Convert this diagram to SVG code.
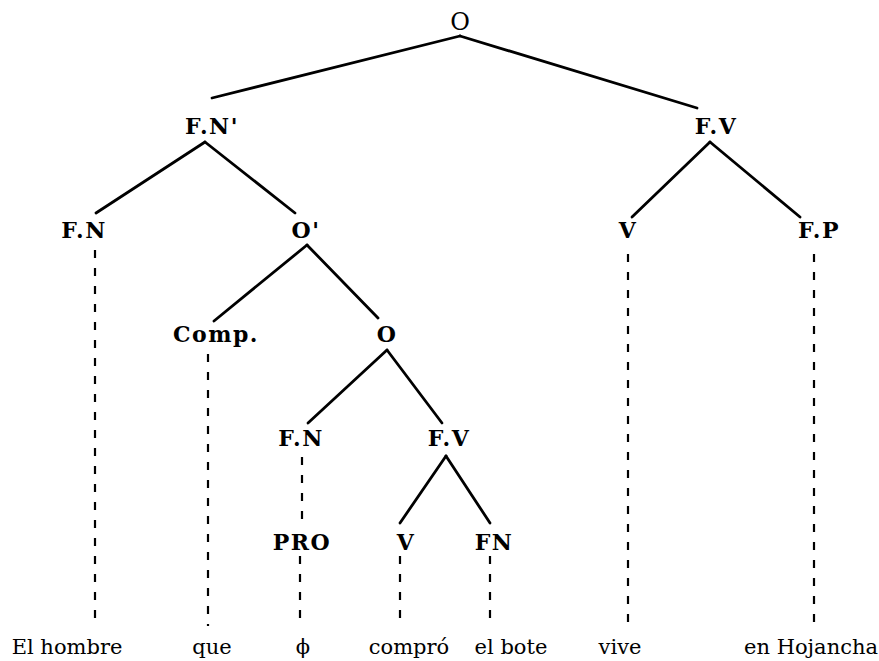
<svg xmlns="http://www.w3.org/2000/svg" width="879" height="661" viewBox="0 0 879 661">
<style>
.lbl{font-family:"DejaVu Serif","Liberation Serif",serif;font-weight:bold;font-size:22px;letter-spacing:1.5px;text-anchor:middle;fill:#000}
.top{font-family:"DejaVu Serif","Liberation Serif",serif;font-size:24px;text-anchor:middle;fill:#000}
.word{font-family:"DejaVu Serif","Liberation Serif",serif;font-size:21px;text-anchor:middle;fill:#000}
.edge{stroke:#000;stroke-width:2.8;fill:none;stroke-linecap:round}
.dash{stroke:#000;stroke-width:2.2;fill:none;stroke-dasharray:8 10}
</style>
<rect width="879" height="661" fill="#fff"/>
<g id="connectors">
<line class="edge" x1="460" y1="36" x2="212" y2="98"/>
<line class="edge" x1="460" y1="36" x2="697" y2="108"/>
<line class="edge" x1="205" y1="142" x2="96" y2="213"/>
<line class="edge" x1="205" y1="142" x2="295" y2="213"/>
<line class="edge" x1="710" y1="142" x2="632" y2="217"/>
<line class="edge" x1="710" y1="142" x2="800" y2="217"/>
<line class="edge" x1="307" y1="245" x2="214" y2="321"/>
<line class="edge" x1="307" y1="245" x2="378" y2="318"/>
<line class="edge" x1="387" y1="350" x2="308" y2="423"/>
<line class="edge" x1="387" y1="350" x2="442" y2="423"/>
<line class="edge" x1="446" y1="456" x2="400" y2="523"/>
<line class="edge" x1="446" y1="456" x2="490" y2="523"/>
<line class="dash" x1="95" y1="250" x2="95" y2="626"/>
<line class="dash" x1="208" y1="354" x2="208" y2="626"/>
<line class="dash" x1="302" y1="457" x2="302" y2="524"/>
<line class="dash" x1="300" y1="556" x2="300" y2="626"/>
<line class="dash" x1="400" y1="556" x2="400" y2="626"/>
<line class="dash" x1="490" y1="556" x2="490" y2="626"/>
<line class="dash" x1="628" y1="254" x2="628" y2="626"/>
<line class="dash" x1="814" y1="254" x2="814" y2="626"/>
</g>
<g id="n-O"><text class="top" x="460" y="30">O</text></g>
<g id="n-FNp"><text class="lbl" x="212" y="134">F.N'</text></g>
<g id="n-FV1"><text class="lbl" x="716" y="134">F.V</text></g>
<g id="n-FN1"><text class="lbl" x="84" y="238">F.N</text></g>
<g id="n-Op"><text class="lbl" x="306" y="238">O'</text></g>
<g id="n-V1"><text class="lbl" x="628" y="238">V</text></g>
<g id="n-FP"><text class="lbl" x="819" y="238">F.P</text></g>
<g id="n-Comp"><text class="lbl" x="216" y="342">Comp.</text></g>
<g id="n-O2"><text class="lbl" x="387" y="342">O</text></g>
<g id="n-FN2"><text class="lbl" x="301" y="446">F.N</text></g>
<g id="n-FV2"><text class="lbl" x="449" y="446">F.V</text></g>
<g id="n-PRO"><text class="lbl" x="302" y="550">PRO</text></g>
<g id="n-V2"><text class="lbl" x="406" y="550">V</text></g>
<g id="n-FN3"><text class="lbl" x="494" y="550">FN</text></g>
<g id="words">
<text class="word" x="67" y="654">El hombre</text>
<text class="word" x="212" y="654">que</text>
<text class="word" x="303" y="654">ϕ</text>
<text class="word" x="409" y="654">compró</text>
<text class="word" x="511" y="654">el bote</text>
<text class="word" x="620" y="654">vive</text>
<text class="word" x="811" y="654">en Hojancha</text>
</g>
</svg>
